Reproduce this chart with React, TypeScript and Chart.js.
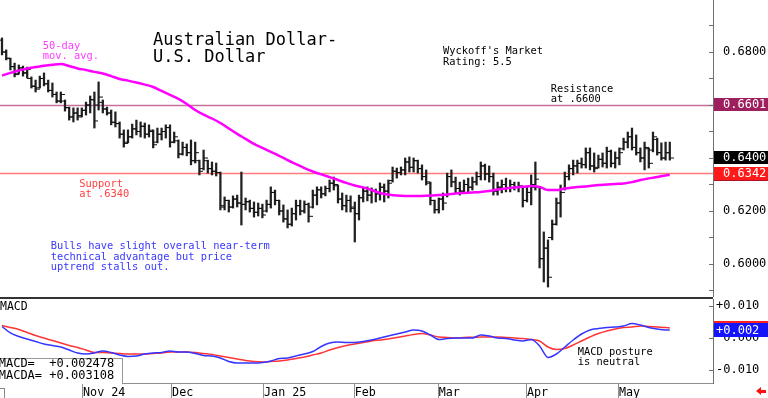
import React, { useEffect, useRef } from 'react';
import { Chart, registerables } from 'chart.js';

Chart.register(...registerables);

const FONT = '"DejaVu Sans Mono", "Liberation Mono", monospace';

// ---- Daily OHLC bars (trading-day index 0..159) ----
const HIGH = [
  0.6853, 0.6808, 0.6777, 0.6758, 0.6751, 0.6747, 0.6743, 0.6706, 0.6694, 0.6709,
  0.6721, 0.6694, 0.6683, 0.6649, 0.6649, 0.6619, 0.6592, 0.6589, 0.6589, 0.6589,
  0.6611, 0.6634, 0.6649, 0.6687, 0.6619, 0.6592, 0.6581, 0.6574, 0.6536, 0.6506,
  0.6506, 0.6528, 0.6543, 0.6536, 0.6532, 0.6525, 0.6506, 0.6513, 0.6513, 0.6525,
  0.6525, 0.6498, 0.6468, 0.6460, 0.6453, 0.6468, 0.6460, 0.6392, 0.6430, 0.6392,
  0.6385, 0.6381, 0.6347, 0.6253, 0.6241, 0.6257, 0.6260, 0.6347, 0.6249, 0.6241,
  0.6234, 0.6230, 0.6226, 0.6241, 0.6291, 0.6279, 0.6241, 0.6223, 0.6204, 0.6211,
  0.6241, 0.6241, 0.6238, 0.6230, 0.6279, 0.6291, 0.6291, 0.6294, 0.6317, 0.6328,
  0.6298, 0.6268, 0.6260, 0.6257, 0.6234, 0.6260, 0.6287, 0.6291, 0.6287, 0.6283,
  0.6306, 0.6302, 0.6317, 0.6366, 0.6362, 0.6366, 0.6400, 0.6404, 0.6400, 0.6392,
  0.6374, 0.6355, 0.6309, 0.6241, 0.6249, 0.6268, 0.6343, 0.6355, 0.6328, 0.6309,
  0.6317, 0.6324, 0.6328, 0.6347, 0.6385, 0.6377, 0.6370, 0.6343, 0.6309, 0.6317,
  0.6324, 0.6317, 0.6309, 0.6309, 0.6291, 0.6291, 0.6336, 0.6385, 0.6291, 0.6121,
  0.6091, 0.6166, 0.6249, 0.6298, 0.6347, 0.6374, 0.6392, 0.6392, 0.6400, 0.6438,
  0.6438, 0.6419, 0.6411, 0.6419, 0.6441, 0.6430, 0.6423, 0.6438, 0.6475, 0.6498,
  0.6513, 0.6487, 0.6438, 0.6460, 0.6438, 0.6498, 0.6475, 0.6457, 0.6460, 0.6460,
];
const LOW = [
  0.6789, 0.6770, 0.6732, 0.6706, 0.6717, 0.6709, 0.6702, 0.6664, 0.6649, 0.6664,
  0.6672, 0.6649, 0.6630, 0.6608, 0.6608, 0.6577, 0.6543, 0.6536, 0.6543, 0.6555,
  0.6562, 0.6570, 0.6513, 0.6581, 0.6570, 0.6562, 0.6525, 0.6517, 0.6475, 0.6441,
  0.6457, 0.6475, 0.6487, 0.6479, 0.6475, 0.6479, 0.6438, 0.6457, 0.6468, 0.6475,
  0.6441, 0.6457, 0.6400, 0.6411, 0.6408, 0.6374, 0.6381, 0.6336, 0.6355, 0.6343,
  0.6336, 0.6332, 0.6204, 0.6204, 0.6196, 0.6211, 0.6215, 0.6147, 0.6204, 0.6196,
  0.6177, 0.6181, 0.6174, 0.6196, 0.6211, 0.6223, 0.6185, 0.6158, 0.6136, 0.6143,
  0.6166, 0.6185, 0.6192, 0.6158, 0.6211, 0.6223, 0.6249, 0.6257, 0.6272, 0.6279,
  0.6230, 0.6204, 0.6196, 0.6196, 0.6083, 0.6166, 0.6234, 0.6238, 0.6230, 0.6234,
  0.6241, 0.6234, 0.6249, 0.6309, 0.6324, 0.6336, 0.6336, 0.6347, 0.6347, 0.6343,
  0.6317, 0.6298, 0.6223, 0.6192, 0.6192, 0.6204, 0.6253, 0.6291, 0.6268, 0.6260,
  0.6268, 0.6272, 0.6279, 0.6298, 0.6317, 0.6317, 0.6309, 0.6260, 0.6260, 0.6268,
  0.6272, 0.6272, 0.6279, 0.6272, 0.6215, 0.6234, 0.6223, 0.6279, 0.5985, 0.5932,
  0.5913, 0.6091, 0.6147, 0.6177, 0.6279, 0.6317, 0.6336, 0.6343, 0.6362, 0.6362,
  0.6355, 0.6347, 0.6362, 0.6366, 0.6362, 0.6366, 0.6362, 0.6374, 0.6430, 0.6438,
  0.6430, 0.6411, 0.6385, 0.6355, 0.6362, 0.6423, 0.6411, 0.6392, 0.6392, 0.6392,
];
const OPEN = [
  0.6845, 0.6800, 0.6775, 0.6745, 0.6718, 0.6740, 0.6722, 0.6700, 0.6670, 0.6665,
  0.6700, 0.6680, 0.6655, 0.6640, 0.6615, 0.6615, 0.6590, 0.6555, 0.6570, 0.6560,
  0.6580, 0.6600, 0.6620, 0.6600, 0.6610, 0.6585, 0.6570, 0.6535, 0.6530, 0.6490,
  0.6460, 0.6480, 0.6510, 0.6500, 0.6520, 0.6490, 0.6500, 0.6460, 0.6490, 0.6500,
  0.6515, 0.6460, 0.6465, 0.6415, 0.6440, 0.6420, 0.6390, 0.6390, 0.6360, 0.6390,
  0.6360, 0.6350, 0.6345, 0.6215, 0.6240, 0.6215, 0.6245, 0.6230, 0.6225, 0.6235,
  0.6210, 0.6195, 0.6210, 0.6200, 0.6225, 0.6270, 0.6240, 0.6200, 0.6170, 0.6150,
  0.6190, 0.6220, 0.6200, 0.6225, 0.6215, 0.6260, 0.6280, 0.6265, 0.6285, 0.6305,
  0.6295, 0.6245, 0.6220, 0.6240, 0.6215, 0.6190, 0.6250, 0.6275, 0.6260, 0.6275,
  0.6265, 0.6290, 0.6275, 0.6315, 0.6350, 0.6345, 0.6355, 0.6385, 0.6365, 0.6390,
  0.6360, 0.6330, 0.6305, 0.6240, 0.6205, 0.6245, 0.6260, 0.6330, 0.6310, 0.6285,
  0.6275, 0.6300, 0.6290, 0.6310, 0.6330, 0.6370, 0.6340, 0.6330, 0.6275, 0.6290,
  0.6300, 0.6285, 0.6300, 0.6290, 0.6290, 0.6240, 0.6270, 0.6290, 0.6290, 0.6020,
  0.6060, 0.6100, 0.6150, 0.6230, 0.6285, 0.6330, 0.6360, 0.6370, 0.6380, 0.6375,
  0.6420, 0.6370, 0.6365, 0.6395, 0.6380, 0.6425, 0.6380, 0.6400, 0.6435, 0.6460,
  0.6480, 0.6440, 0.6420, 0.6400, 0.6435, 0.6430, 0.6470, 0.6420, 0.6400, 0.6420,
];
const CLOSE = [
  0.6800, 0.6777, 0.6745, 0.6715, 0.6740, 0.6720, 0.6735, 0.6672, 0.6660, 0.6700,
  0.6680, 0.6655, 0.6640, 0.6615, 0.6640, 0.6590, 0.6555, 0.6570, 0.6555, 0.6580,
  0.6600, 0.6620, 0.6540, 0.6630, 0.6585, 0.6570, 0.6535, 0.6530, 0.6490, 0.6455,
  0.6480, 0.6510, 0.6500, 0.6520, 0.6490, 0.6505, 0.6450, 0.6490, 0.6500, 0.6515,
  0.6460, 0.6480, 0.6415, 0.6440, 0.6420, 0.6390, 0.6420, 0.6350, 0.6400, 0.6360,
  0.6350, 0.6345, 0.6220, 0.6240, 0.6215, 0.6245, 0.6230, 0.6225, 0.6235, 0.6210,
  0.6195, 0.6210, 0.6185, 0.6225, 0.6270, 0.6240, 0.6200, 0.6170, 0.6150, 0.6190,
  0.6220, 0.6200, 0.6225, 0.6180, 0.6260, 0.6280, 0.6265, 0.6285, 0.6305, 0.6300,
  0.6245, 0.6220, 0.6240, 0.6210, 0.6190, 0.6250, 0.6275, 0.6260, 0.6275, 0.6265,
  0.6290, 0.6275, 0.6305, 0.6350, 0.6345, 0.6355, 0.6385, 0.6365, 0.6390, 0.6360,
  0.6330, 0.6310, 0.6240, 0.6205, 0.6245, 0.6230, 0.6330, 0.6310, 0.6285, 0.6275,
  0.6300, 0.6290, 0.6310, 0.6330, 0.6370, 0.6340, 0.6330, 0.6275, 0.6290, 0.6300,
  0.6285, 0.6300, 0.6290, 0.6295, 0.6240, 0.6270, 0.6300, 0.6320, 0.6020, 0.6060,
  0.5950, 0.6150, 0.6230, 0.6270, 0.6330, 0.6360, 0.6370, 0.6380, 0.6375, 0.6420,
  0.6370, 0.6360, 0.6395, 0.6380, 0.6425, 0.6380, 0.6400, 0.6420, 0.6460, 0.6480,
  0.6440, 0.6420, 0.6400, 0.6440, 0.6380, 0.6480, 0.6420, 0.6400, 0.6420, 0.6400,
];

// ---- Indicators sampled every 2nd trading day (plus the last day) ----
const SAMPLE_DAYS = Array.from({ length: 80 }, (_, k) => k * 2).concat([159]);
const MA50 = [
  0.6711, 0.6721, 0.6730, 0.6738, 0.6743, 0.6748, 0.6752, 0.6755, 0.6747, 0.6738,
  0.6732, 0.6725, 0.6719, 0.6709, 0.6698, 0.6692, 0.6685, 0.6677, 0.6668, 0.6653,
  0.6638, 0.6623, 0.6604, 0.6581, 0.6564, 0.6549, 0.6532, 0.6511, 0.6491, 0.6472,
  0.6453, 0.6438, 0.6423, 0.6408, 0.6392, 0.6377, 0.6362, 0.6349, 0.6338, 0.6328,
  0.6317, 0.6306, 0.6296, 0.6289, 0.6279, 0.6268, 0.6262, 0.6258, 0.6257, 0.6257,
  0.6257, 0.6258, 0.6260, 0.6262, 0.6266, 0.6268, 0.6270, 0.6272, 0.6275, 0.6281,
  0.6285, 0.6289, 0.6291, 0.6294, 0.6291, 0.6279, 0.6279, 0.6285, 0.6289, 0.6291,
  0.6294, 0.6298, 0.6300, 0.6302, 0.6304, 0.6309, 0.6317, 0.6323, 0.6328, 0.6334,
  0.6336,
];
const MACD = [
  0.00358, 0.00156, 0.00047, -0.00031, -0.00109, -0.00187, -0.00233, -0.0028, -0.00373, -0.00467,
  -0.00498, -0.00467, -0.00404, -0.00451, -0.00529, -0.00575, -0.0056, -0.00498, -0.00467, -0.00451,
  -0.00404, -0.00435, -0.00435, -0.00482, -0.00544, -0.0056, -0.00622, -0.00731, -0.00778, -0.00778,
  -0.00778, -0.00762, -0.00715, -0.00638, -0.00622, -0.0056, -0.00498, -0.0042, -0.00264, -0.00156,
  -0.00124, -0.0014, -0.0014, -0.00109, -0.00062, 0.0, 0.00062, 0.00124, 0.00187, 0.00249,
  0.00218, 0.00093, -0.00047, -0.00016, 0.0, 0.0, 0.0, 0.00093, 0.00062, 0.0,
  -0.00016, -0.00062, -0.00093, -0.00047, -0.00249, -0.00606, -0.00498, -0.0028, -0.00062, 0.00124,
  0.00249, 0.00295, 0.00327, 0.00342, 0.00373, 0.00451, 0.00404, 0.00327, 0.0028, 0.00249,
  0.002478,
];
const MACDA = [
  0.00389, 0.00327, 0.00264, 0.00171, 0.00078, 0.0, -0.00078, -0.00156, -0.00233, -0.00295,
  -0.00373, -0.00451, -0.00451, -0.00467, -0.00482, -0.00498, -0.00498, -0.00498, -0.00482, -0.00467,
  -0.00435, -0.00435, -0.00435, -0.00451, -0.00482, -0.00513, -0.0056, -0.00606, -0.00653, -0.007,
  -0.00731, -0.00746, -0.00731, -0.00715, -0.00684, -0.00638, -0.00591, -0.00529, -0.00467, -0.00373,
  -0.00295, -0.00233, -0.00187, -0.0014, -0.00093, -0.00062, -0.00031, 0.00016, 0.00062, 0.00109,
  0.0014, 0.00093, 0.00031, 0.00016, 0.0, 0.00016, 0.00022, 0.00031, 0.00031, 0.00031,
  0.00016, 0.0, -0.00016, -0.00047, -0.00093, -0.0028, -0.00358, -0.00327, -0.00218, -0.00093,
  0.00031, 0.0014, 0.00218, 0.0028, 0.00327, 0.00342, 0.00373, 0.00358, 0.00342, 0.00327,
  0.003108,
];

// ---- Axes ----
const MONTH_TICKS = [19.3, 40.5, 62.4, 84, 104, 125, 146.9];
const MONTH_LABELS = ['Nov 24', 'Dec', 'Jan 25', 'Feb', 'Mar', 'Apr', 'May'];
const PRICE_TICKS = [0.59, 0.6, 0.61, 0.62, 0.63, 0.64, 0.65, 0.66, 0.67, 0.68, 0.69];
const PRICE_LABELED = [0.6, 0.62, 0.64, 0.66, 0.68];
const MACD_TICKS = [-0.01, 0, 0.01];
const MACD_TICK_LABELS = ['-0.010', ' 0.000', '+0.010'];
const X_MIN = -0.476;
const X_MAX = 169.29;
const PRICE_MIN = 0.58754;
const PRICE_MAX = 0.69962;
const MACD_MIN = -0.014;
const MACD_MAX = 0.01213;

// ---- Levels ----
const RESISTANCE = 0.6601;
const SUPPORT = 0.6342;

function makeTick(side: 'left' | 'right') {
  const c = document.createElement('canvas');
  c.width = 8;
  c.height = 3;
  const g = c.getContext('2d')!;
  g.fillStyle = '#111';
  if (side === 'left') g.fillRect(0, 1, 4, 1);
  else g.fillRect(4, 1, 4, 1);
  return c;
}

const panelPlugin = {
  id: 'panel',
  beforeDatasetsDraw(chart: any, _a: any, opts: any) {
    const { ctx, chartArea } = chart;
    const y = chart.scales.y;
    for (const h of opts.hlines || []) {
      const py = Math.round(y.getPixelForValue(h.value)) + 0.5;
      ctx.save();
      ctx.strokeStyle = h.color;
      ctx.lineWidth = h.width;
      ctx.beginPath();
      ctx.moveTo(chartArea.left, py);
      ctx.lineTo(chartArea.right, py);
      ctx.stroke();
      ctx.restore();
    }
  },
  afterDraw(chart: any, _a: any, opts: any) {
    const { ctx, chartArea } = chart;
    const y = chart.scales.y;
    const x = chart.scales.x;
    ctx.save();
    ctx.strokeStyle = '#707070';
    ctx.lineWidth = 1;
    for (const t of y.ticks) {
      const py = Math.round(y.getPixelForValue(t.value)) + 0.5;
      ctx.beginPath();
      ctx.moveTo(chartArea.right - 4, py);
      ctx.lineTo(chartArea.right, py);
      ctx.stroke();
    }
    if (opts.monthLines) {
      ctx.strokeStyle = '#909090';
      for (const t of x.ticks) {
        const px = Math.round(x.getPixelForValue(t.value)) - 0.5;
        ctx.beginPath();
        ctx.moveTo(px, chartArea.bottom);
        ctx.lineTo(px, chart.height);
        ctx.stroke();
      }
    }
    ctx.font = `12px ${FONT}`;
    ctx.textBaseline = 'middle';
    ctx.textAlign = 'left';
    for (const b of opts.boxes || []) {
      const cy = y.getPixelForValue(b.value);
      const top = Math.round(cy - b.h / 2);
      ctx.fillStyle = b.color;
      ctx.fillRect(chartArea.right + 1, top, chart.width - chartArea.right - 1, b.h);
      if (b.text) {
        ctx.fillStyle = '#fff';
        ctx.fillText(b.text, chartArea.right + b.pad, top + b.h / 2 + 0.5);
      }
    }
    ctx.restore();
  },
};

function fixY(width: number) {
  return (s: any) => {
    s.width = width;
    s.paddingTop = 0;
    s.paddingBottom = 0;
  };
}

function mainConfig(): any {
  const last = CLOSE.length - 1;
  return {
    type: 'bar',
    data: {
      datasets: [
        {
          type: 'line',
          data: SAMPLE_DAYS.map((d, k) => ({ x: d, y: MA50[k] })),
          borderColor: '#FF00FF',
          borderWidth: 2.5,
          pointRadius: 0,
          cubicInterpolationMode: 'monotone',
          order: 0,
        },
        {
          type: 'scatter',
          data: OPEN.map((v, i) => ({ x: i, y: v })),
          pointStyle: makeTick('left'),
          pointRadius: 3,
          order: 1,
        },
        {
          type: 'scatter',
          data: CLOSE.map((v, i) => ({ x: i, y: v })),
          pointStyle: makeTick('right'),
          pointRadius: 3,
          order: 1,
        },
        {
          type: 'bar',
          data: HIGH.map((h, i) => ({ x: i, y: [LOW[i], h] })),
          backgroundColor: '#202020',
          borderWidth: 0,
          barThickness: 1.6,
          grouped: false,
          order: 2,
        },
      ],
    },
    options: {
      animation: false,
      responsive: false,
      events: [],
      layout: { padding: 0, autoPadding: false },
      plugins: {
        legend: { display: false },
        tooltip: { enabled: false },
        panel: {
          hlines: [
            { value: RESISTANCE, color: '#C46F9C', width: 1.5 },
            { value: SUPPORT, color: '#FF7A7A', width: 1.5 },
          ],
          boxes: [
            { value: RESISTANCE, color: '#9E1F5E', text: RESISTANCE.toFixed(4), h: 13, pad: 10 },
            { value: CLOSE[last], color: '#000000', text: CLOSE[last].toFixed(4), h: 13, pad: 10 },
            { value: MA50[MA50.length - 1], color: '#B0102A', text: '', h: 13, pad: 10 },
            { value: SUPPORT, color: '#FF1A1A', text: SUPPORT.toFixed(4), h: 13, pad: 10 },
          ],
        },
      },
      scales: {
        x: { type: 'linear', display: false, min: X_MIN, max: X_MAX, offset: false },
        y: {
          position: 'right',
          min: PRICE_MIN,
          max: PRICE_MAX,
          grid: { display: false, drawTicks: false },
          border: { display: true, color: '#707070', width: 1 },
          ticks: {
            padding: 10,
            color: '#000',
            font: { family: FONT, size: 12 },
            callback: (v: number) =>
              PRICE_LABELED.some((p) => Math.abs(p - v) < 1e-6) ? v.toFixed(4) : '',
          },
          afterBuildTicks: (s: any) => {
            s.ticks = PRICE_TICKS.map((v) => ({ value: v }));
          },
          afterFit: fixY(55),
        },
      },
    },
    plugins: [panelPlugin],
  };
}

function macdConfig(): any {
  return {
    type: 'line',
    data: {
      datasets: [
        {
          data: SAMPLE_DAYS.map((d, k) => ({ x: d, y: MACD[k] })),
          borderColor: '#3535FF',
          borderWidth: 1.5,
          pointRadius: 0,
          cubicInterpolationMode: 'monotone',
        },
        {
          data: SAMPLE_DAYS.map((d, k) => ({ x: d, y: MACDA[k] })),
          borderColor: '#FF3535',
          borderWidth: 1.5,
          pointRadius: 0,
          cubicInterpolationMode: 'monotone',
        },
      ],
    },
    options: {
      animation: false,
      responsive: false,
      events: [],
      layout: { padding: 0, autoPadding: false },
      plugins: {
        legend: { display: false },
        tooltip: { enabled: false },
        panel: {
          monthLines: true,
          boxes: [
            { value: MACDA[MACDA.length - 1], color: '#FF2020', text: '', h: 14, pad: 3 },
            {
              value: MACD[MACD.length - 1],
              color: '#1414FF',
              text: '+' + MACD[MACD.length - 1].toFixed(3),
              h: 14,
              pad: 3,
            },
          ],
        },
      },
      scales: {
        x: {
          type: 'linear',
          min: X_MIN,
          max: X_MAX,
          offset: false,
          position: 'bottom',
          grid: { display: false, drawTicks: false },
          border: { display: true, color: '#909090', width: 1 },
          ticks: {
            autoSkip: false,
            align: 'start',
            maxRotation: 0,
            padding: 3,
            color: '#000',
            font: { family: FONT, size: 11.7 },
            callback: (_v: number, i: number) => MONTH_LABELS[i],
          },
          afterBuildTicks: (s: any) => {
            s.ticks = MONTH_TICKS.map((v) => ({ value: v }));
          },
          afterFit: (s: any) => {
            s.height = 15;
            s.paddingLeft = 0;
            s.paddingRight = 0;
          },
        },
        y: {
          position: 'right',
          min: MACD_MIN,
          max: MACD_MAX,
          grid: { display: false, drawTicks: false },
          border: { display: true, color: '#707070', width: 1 },
          ticks: {
            padding: 3,
            color: '#000',
            font: { family: FONT, size: 12 },
            callback: (_v: number, i: number) => MACD_TICK_LABELS[i],
          },
          afterBuildTicks: (s: any) => {
            s.ticks = MACD_TICKS.map((v) => ({ value: v }));
          },
          afterFit: fixY(55),
        },
      },
    },
    plugins: [panelPlugin],
  };
}

function Txt(props: {
  left: number;
  top: number;
  size: number;
  lh: number;
  color?: string;
  lines: string[];
}) {
  return (
    <div
      style={{
        position: 'absolute',
        left: props.left,
        top: props.top,
        color: props.color || '#000',
        fontFamily: FONT,
        fontSize: props.size,
        lineHeight: `${props.lh}px`,
        whiteSpace: 'pre',
      }}
    >
      {props.lines.join('\n')}
    </div>
  );
}

export default function App() {
  const mainRef = useRef<HTMLCanvasElement>(null);
  const macdRef = useRef<HTMLCanvasElement>(null);

  useEffect(() => {
    const c1 = new Chart(mainRef.current!, mainConfig());
    const c2 = new Chart(macdRef.current!, macdConfig());
    return () => {
      c1.destroy();
      c2.destroy();
    };
  }, []);

  return (
    <div
      style={{
        position: 'fixed',
        left: 0,
        top: 0,
        width: 768,
        height: 398,
        background: '#fff',
        overflow: 'hidden',
      }}
    >
      <canvas ref={mainRef} width={768} height={297} style={{ position: 'absolute', left: 0, top: 0 }} />
      <canvas ref={macdRef} width={768} height={99} style={{ position: 'absolute', left: 0, top: 299 }} />
      <div style={{ position: 'absolute', left: 0, top: 297, width: 713, height: 2, background: '#333' }} />

      <Txt left={153} top={31.3} size={17} lh={17} lines={['Australian Dollar-', 'U.S. Dollar']} />
      <Txt left={443} top={45.3} size={10.4} lh={10.7} lines={["Wyckoff's Market", 'Rating: 5.5']} />
      <Txt left={550.7} top={82.8} size={10.4} lh={10} lines={['Resistance', 'at .6600']} />
      <Txt left={42.7} top={39.5} size={10.4} lh={10.3} color="#FF3CFF" lines={['50-day', 'mov. avg.']} />
      <Txt left={79.3} top={178.4} size={10.4} lh={10} color="#FF4040" lines={['Support', 'at .6340']} />
      <Txt
        left={50.7}
        top={240}
        size={10.4}
        lh={10.6}
        color="#3838FF"
        lines={['Bulls have slight overall near-term', 'technical advantage but price', 'uptrend stalls out.']}
      />
      <Txt left={577.7} top={346} size={10.4} lh={10} lines={['MACD posture', 'is neutral']} />
      <Txt left={0} top={301} size={11.5} lh={11.5} lines={['MACD']} />

      <div
        style={{
          position: 'absolute',
          left: -1,
          top: 358,
          width: 123,
          height: 25,
          background: '#fff',
          borderTop: '1px solid #999',
          borderRight: '1px solid #999',
        }}
      />
      <Txt left={-1.3} top={358.3} size={12} lh={11.7} lines={['MACD=  +0.002478', 'MACDA= +0.003108']} />

      <div style={{ position: 'absolute', left: -1, top: 388, width: 4, height: 12, border: '1px solid #888' }} />
      <div
        style={{
          position: 'absolute',
          left: 756,
          top: 387,
          width: 0,
          height: 0,
          borderTop: '4px solid transparent',
          borderBottom: '4px solid transparent',
          borderRight: '5px solid #FF1010',
        }}
      />
      <div style={{ position: 'absolute', left: 761, top: 389.5, width: 5, height: 3, background: '#FF1010' }} />
    </div>
  );
}
